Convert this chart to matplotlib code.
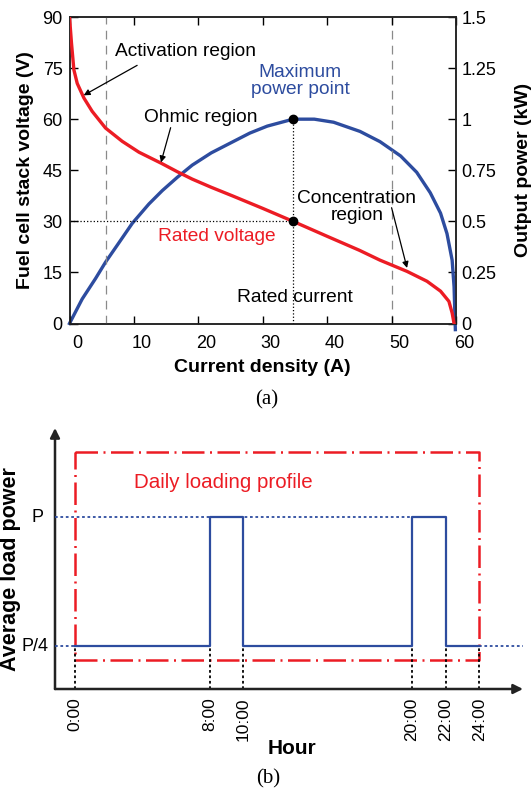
import matplotlib
matplotlib.use("Agg")
import matplotlib.pyplot as plt
import matplotlib.transforms as mtransforms

plt.rcParams['font.family'] = ['Liberation Sans', 'DejaVu Sans']

RED = '#ec1c24'
BLUE = '#2d4c9f'

# ---------------- data (a) ----------------
current_v = [0, 0.31, 0.68, 1.2, 2.24, 3.52, 5.59, 8.18, 10.78, 14.3, 16.7, 19.05, 22, 25.4,
             30, 34.7, 40, 45, 48.2, 52.4, 55.5, 57.6, 58.9, 59.4, 59.7]
voltage = [90, 82.3, 74.5, 70.5, 66.2, 62.3, 57.4, 53.5, 50.3, 47.0, 44.6, 42.4, 40.0, 37.4,
           33.8, 30, 25.6, 21.5, 18.6, 15.3, 12.4, 9.5, 6.5, 3.1, 0]
current_p = [0, 1.97, 4.04, 5.59, 7.67, 9.74, 12.33, 14.39, 16.72, 19.05, 22, 25.4, 28, 30.7,
             34.7, 38, 41, 45.1, 48.2, 51.4, 53.9, 56.0, 57.6, 58.6, 59.4, 59.7, 59.9]
power = [0, 0.12, 0.22, 0.30, 0.395, 0.49, 0.585, 0.65, 0.715, 0.775, 0.835, 0.89, 0.932, 0.966,
         1.0, 1.0, 0.985, 0.94, 0.89, 0.82, 0.74, 0.64, 0.54, 0.44, 0.31, 0.18, -0.03]
region_bounds = [5.6, 50]
rated_current = 34.7
rated_voltage = 30
max_power = 1.0
v_ticks = [0, 15, 30, 45, 60, 75, 90]
p_ticks = [0, 0.25, 0.5, 0.75, 1, 1.25, 1.5]
p_ticklabels = ['0', '0.25', '0.5', '0.75', '1', '1.25', '1.5']
i_ticks = [0, 10, 20, 30, 40, 50, 60]

# ---------------- data (b) ----------------
hours = [0, 8, 10, 20, 22, 24]
hour_labels = ['0:00', '8:00', '10:00', '20:00', '22:00', '24:00']
load = [0.25, 1, 0.25, 1, 0.25, 0.25]
P_level = 1.0
P4_level = 0.25

fig = plt.figure(figsize=(5.31, 7.96), dpi=100)

# ================= (a) =================
ax1 = fig.add_axes([69.5/531, 1-323.5/796, (456-69.5)/531, (323.5-17)/796])
ax2 = ax1.twinx()
ax1.set_xlim(0, 60)
ax1.set_ylim(0, 90)
ax2.set_ylim(0, 1.5)

for b in region_bounds:
    ax1.axvline(b, color='#8a8a8a', lw=0.9, ls=(0, (7, 5)), zorder=1)

ax1.plot([0, rated_current], [rated_voltage, rated_voltage], color='black', lw=0.9, ls=':', zorder=2)
ax1.plot([rated_current, rated_current], [0, max_power*60], color='black', lw=0.9, ls=':', zorder=2)

ax2.plot(current_p, power, color=BLUE, lw=2.4, zorder=3, clip_on=False)
ax1.plot(current_v, voltage, color=RED, lw=2.4, zorder=4)
ax1.set_zorder(ax2.get_zorder()+1)
ax1.patch.set_visible(False)

ax1.plot([rated_current], [rated_voltage], 'o', color='black', ms=6, zorder=6)
ax2.plot([rated_current], [max_power], 'o', color='black', ms=6, zorder=6)

ax1.set_xticks(i_ticks)
ax1.set_yticks(v_ticks)
ax2.set_yticks(p_ticks)
ax2.set_yticklabels(p_ticklabels)
ax1.tick_params(direction='in', length=6, width=1, labelsize=13, top=True, pad=5)
ax1.tick_params(axis='x', pad=8)
ax1.tick_params(axis='y', right=False)
ax2.tick_params(direction='in', length=6, width=1, labelsize=13, pad=4)
offset = mtransforms.ScaledTranslation(0.08, 0, fig.dpi_scale_trans)
for lab in ax1.get_xticklabels():
    lab.set_transform(lab.get_transform() + offset)
for a in (ax1, ax2):
    for s in a.spines.values():
        s.set_linewidth(1.1)
        s.set_color('#222222')

ax1.set_xlabel('Current density (A)', fontsize=14, fontweight='bold', labelpad=5)
ax1.set_ylabel('Fuel cell stack voltage (V)', fontsize=14, fontweight='bold', labelpad=6)
ax2.set_ylabel('Output power (kW)', fontsize=14, fontweight='bold', labelpad=13)

FS = 13.8
ap = dict(arrowstyle='-|>', color='black', lw=0.9, mutation_scale=9, shrinkA=0, shrinkB=0)
ax1.text(18.0, 80.0, 'Activation region', fontsize=FS, ha='center', va='center', zorder=7)
ax1.annotate('', xy=(2.2, 67), xytext=(10.5, 75.8), arrowprops=ap, zorder=7)
ax1.text(20.3, 60.5, 'Ohmic region', fontsize=FS, ha='center', va='center', zorder=7)
ax1.annotate('', xy=(14.2, 47.3), xytext=(15.7, 57.5), arrowprops=ap, zorder=7)
ax1.text(44.6, 34.3, 'Concentration\nregion', fontsize=FS, ha='center', va='center',
         linespacing=1.0, zorder=7)
ax1.annotate('', xy=(52.4, 16.3), xytext=(50.0, 34.0), arrowprops=ap, zorder=7)
ax1.text(35.8, 71.2, 'Maximum\npower point', fontsize=FS, ha='center', va='center',
         color=BLUE, linespacing=1.0, zorder=7)
ax1.text(22.9, 25.5, 'Rated voltage', fontsize=FS, ha='center', va='center', color=RED, zorder=7)
ax1.text(35.0, 7.5, 'Rated current', fontsize=FS, ha='center', va='center', zorder=7)

fig.text(267/531, 1-400/796, '(a)', fontsize=15, ha='center', va='center',
         family=['Liberation Serif', 'DejaVu Serif'])

# ================= (b) =================
bx = fig.add_axes([55/531, 1-689/796, (523-55)/531, (689-428)/796])
xmin, xmax = -1.19, 26.6
ymax = 1.52
bx.set_xlim(xmin, xmax)
bx.set_ylim(0, ymax)
for s in bx.spines.values():
    s.set_visible(False)
bx.set_xticks([])
bx.set_yticks([])

arr = dict(arrowstyle='-|>', color='#222222', lw=1.8, mutation_scale=14, shrinkA=0, shrinkB=0)
bx.annotate('', xy=(xmax, 0), xytext=(xmin, 0), arrowprops=arr, annotation_clip=False)
bx.annotate('', xy=(xmin, ymax), xytext=(xmin, 0), arrowprops=arr, annotation_clip=False)

rect_x = [hours[0], hours[-1], hours[-1], hours[0], hours[0]]
rect_y = [1.38, 1.38, 0.17, 0.17, 1.38]
bx.plot(rect_x, rect_y, color=RED, lw=1.8, ls=(0, (9, 2.2, 0.8, 2.2)), zorder=2)

bx.plot([xmin, hours[3]], [P_level, P_level], color=BLUE, lw=1.3, ls=(0, (1.5, 1.5)), zorder=3)
bx.plot([xmin, hours[0]], [P4_level, P4_level], color=BLUE, lw=1.3, ls=(0, (1.5, 1.5)), zorder=3)
bx.plot([hours[-1], xmax], [P4_level, P4_level], color=BLUE, lw=1.3, ls=(0, (1.5, 1.5)),
        zorder=3, clip_on=False)

for h in hours:
    bx.plot([h, h], [0, P4_level], color='black', lw=1.3, ls=(0, (1.5, 1.5)), zorder=2)

bx.step(hours, load, where='post', color=BLUE, lw=1.6, zorder=4)

for h, lab in zip(hours, hour_labels):
    bx.annotate(lab, xy=(h, 0), xytext=(0, -6), textcoords='offset points', rotation=90,
                ha='center', va='top', fontsize=12.5, annotation_clip=False)

bx.annotate('P', xy=(xmin, P_level), xytext=(-8, 0), textcoords='offset points',
            ha='right', va='center', fontsize=13, annotation_clip=False)
bx.annotate('P/4', xy=(xmin, P4_level), xytext=(-5, 0), textcoords='offset points',
            ha='right', va='center', fontsize=13, annotation_clip=False)

bx.text(8.8, 1.2, 'Daily loading profile', color=RED, fontsize=14.8, ha='center', va='center')

fig.text(292/531, 1-748/796, 'Hour', fontsize=15, fontweight='bold', ha='center', va='center')
fig.text(11/531, 1-569/796, 'Average load power', fontsize=15.5, fontweight='bold',
         ha='center', va='center', rotation=90)
fig.text(268/531, 1-779/796, '(b)', fontsize=15, ha='center', va='center',
         family=['Liberation Serif', 'DejaVu Serif'])

fig.savefig('out.png', dpi=100)
